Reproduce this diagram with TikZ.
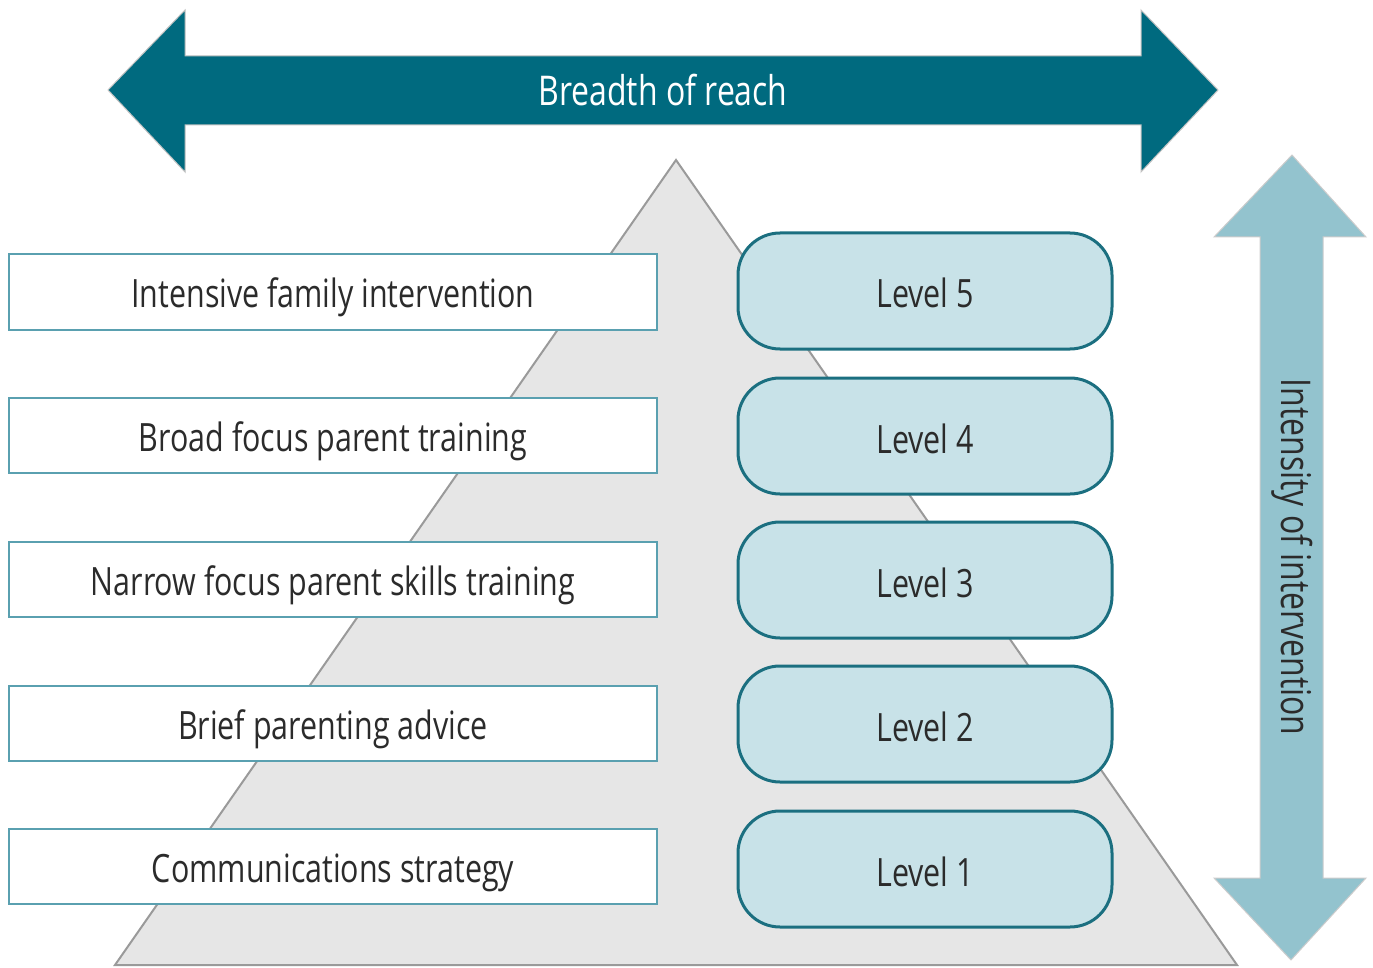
\documentclass[tikz,border=0pt]{standalone}
\usepackage{fontspec}
\setmainfont{Open Sans}[FakeStretch=0.78]
\definecolor{darkteal}{HTML}{006A7F}
\definecolor{lightarrow}{HTML}{93C3CE}
\definecolor{levelfill}{HTML}{C8E2E8}
\definecolor{levelline}{HTML}{1B6F80}
\definecolor{boxline}{HTML}{5AA0B0}
\definecolor{trifill}{HTML}{E6E6E6}
\definecolor{triline}{HTML}{9A9A9A}
\definecolor{txt}{HTML}{2B2B2B}
\begin{document}
\begin{tikzpicture}[x=1pt,y=-1pt,
  lbl/.style={font=\fontsize{39}{46}\selectfont, text=txt},
  leftbox/.style={draw=boxline, line width=2pt, fill=white, minimum width=648pt, minimum height=75pt, inner sep=0pt, text height=32pt, text depth=0pt, lbl},
  levelbox/.style={draw=levelline, line width=3pt, fill=levelfill, rounded corners=42pt, minimum width=374pt, minimum height=116pt, inner sep=0pt, text height=34pt, text depth=0pt, lbl}
]
\useasboundingbox (0,0) rectangle (1373,968);
% top arrow
\draw[fill=darkteal, draw=triline!60, line width=1pt]
  (108,90) -- (185,10) -- (185,56) -- (1141,56) -- (1141,10) -- (1218,90) -- (1141,172) -- (1141,125) -- (185,125) -- (185,172) -- cycle;
\node[lbl, text=white, font=\fontsize{41}{48}\selectfont] (breadth) at (663,90) {Breadth of reach};
% vertical arrow
\draw[fill=lightarrow, draw=triline!50, line width=1pt]
  (1292,155) -- (1366,237) -- (1323,237) -- (1323,878) -- (1366,878) -- (1291,960) -- (1214,878) -- (1260,878) -- (1260,237) -- (1214,237) -- cycle;
\node[lbl, rotate=-90, font=\fontsize{41}{48}\selectfont] (intensity) at (1292,557) {Intensity of intervention};
% pyramid
\draw[fill=trifill, draw=triline, line width=2pt] (676,160) -- (1237,965) -- (115,965) -- cycle;
% left boxes
\node[leftbox] (b5) at (333,292) {Intensive family intervention};
\node[leftbox] (b4) at (333,435) {Broad focus parent training};
\node[leftbox] (b3) at (333,579) {Narrow focus parent skills training};
\node[leftbox] (b2) at (333,723) {Brief parenting advice};
\node[leftbox] (b1) at (333,866) {Communications strategy};
% level boxes
\node[levelbox] (l5) at (925,291) {Level 5};
\node[levelbox] (l4) at (925,436) {Level 4};
\node[levelbox] (l3) at (925,580) {Level 3};
\node[levelbox] (l2) at (925,724) {Level 2};
\node[levelbox] (l1) at (925,869) {Level 1};
\end{tikzpicture}
\end{document}
